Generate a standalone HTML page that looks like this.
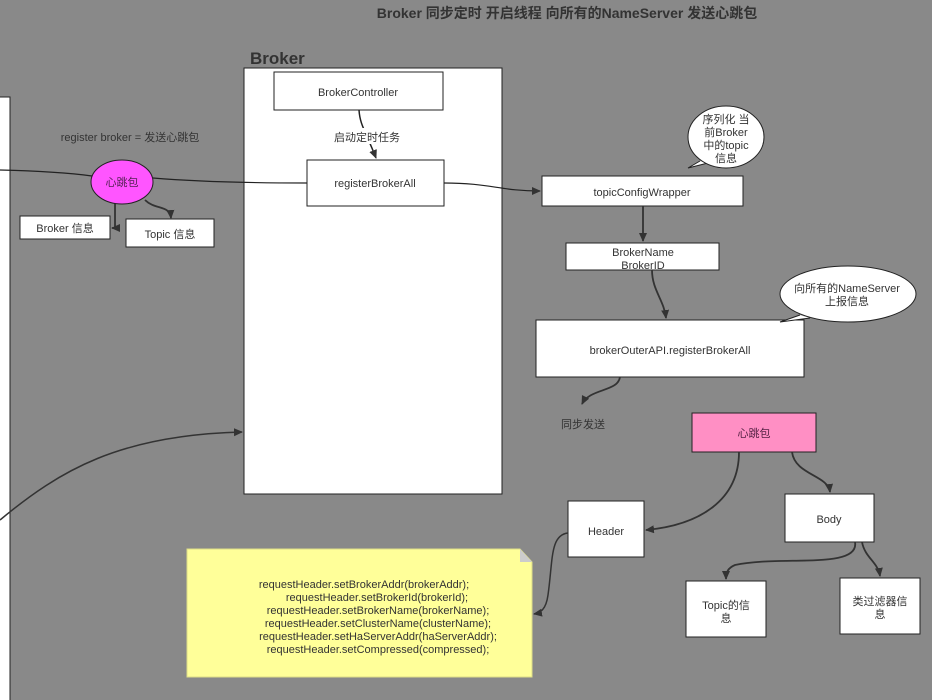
<!DOCTYPE html>
<html><head><meta charset="utf-8"><style>
html,body{margin:0;padding:0;background:#898989;}
svg{display:block;font-family:"Liberation Sans","Noto Sans CJK SC",sans-serif;}
text{fill:#333;font-size:11px;}
</style></head><body>
<svg width="932" height="700" viewBox="0 0 932 700" xmlns="http://www.w3.org/2000/svg">
<defs><marker id="a" markerWidth="10" markerHeight="10" refX="8" refY="4" orient="auto" markerUnits="userSpaceOnUse"><path d="M0,0 L9,4 L0,8 Z" fill="#333"/></marker></defs>
<rect width="932" height="700" fill="#898989"/>
<text x="567" y="18" text-anchor="middle" style="font-size:14px;font-weight:bold">Broker 同步定时 开启线程 向所有的NameServer 发送心跳包</text>
<rect x="-5" y="97" width="15" height="620" fill="#fff" stroke="#222"/>
<text x="250" y="64" style="font-size:17px;font-weight:bold">Broker</text>
<rect x="244" y="68" width="258" height="426" fill="#fff" stroke="#222"/>
<rect x="274" y="72" width="169" height="38" fill="#fff" stroke="#222"/>
<text x="358" y="96" text-anchor="middle">BrokerController</text>
<path d="M359,110 C360,125 365,130 376,158" fill="none" stroke="#222" stroke-width="1.5" marker-end="url(#a)"/>
<rect x="332" y="128" width="74" height="16" fill="#fff"/>
<text x="367" y="141" text-anchor="middle">启动定时任务</text>
<rect x="307" y="160" width="137" height="46" fill="#fff" stroke="#222"/>
<text x="375" y="187" text-anchor="middle">registerBrokerAll</text>
<text x="130" y="141" text-anchor="middle">register broker = 发送心跳包</text>
<path d="M0,170 C40,171 70,173 92,176 M153,178 C200,182 250,183 307,183" fill="none" stroke="#222" stroke-width="1.2"/>
<path d="M444,183 C490,183 500,191 540,191" fill="none" stroke="#222" stroke-width="1.2" marker-end="url(#a)"/>
<path d="M115,201 L115,228 L112,228" fill="none" stroke="#333" stroke-width="1.8" marker-end="url(#a)"/>
<path d="M145,200 C155,210 170,205 171,218" fill="none" stroke="#333" stroke-width="1.8" marker-end="url(#a)"/>
<ellipse cx="122" cy="182" rx="31" ry="22" fill="#ff55ff" stroke="#222"/>
<text x="122" y="186" text-anchor="middle" style="fill:#552255">心跳包</text>
<rect x="20" y="216" width="90" height="23" fill="#fff" stroke="#222"/>
<text x="65" y="232" text-anchor="middle">Broker 信息</text>
<rect x="126" y="219" width="88" height="28" fill="#fff" stroke="#222"/>
<text x="170" y="238" text-anchor="middle">Topic 信息</text>
<rect x="542" y="176" width="201" height="30" fill="#fff" stroke="#222"/>
<text x="642" y="196" text-anchor="middle">topicConfigWrapper</text>
<path d="M700,161 L688,168 L708,163" fill="#fff" stroke="#222"/>
<ellipse cx="726" cy="137" rx="38" ry="31" fill="#fff" stroke="#222"/>
<text x="726" y="123" text-anchor="middle">序列化 当</text>
<text x="726" y="136" text-anchor="middle">前Broker</text>
<text x="726" y="149" text-anchor="middle">中的topic</text>
<text x="726" y="162" text-anchor="middle">信息</text>
<path d="M643,206 L643,241" stroke="#333" stroke-width="1.8" marker-end="url(#a)"/>
<rect x="566" y="243" width="153" height="27" fill="#fff" stroke="#222"/>
<text x="643" y="256" text-anchor="middle">BrokerName</text>
<text x="643" y="269" text-anchor="middle">BrokerID</text>
<path d="M652,270 C652,290 664,300 666,318" fill="none" stroke="#333" stroke-width="1.8" marker-end="url(#a)"/>
<rect x="536" y="320" width="268" height="57" fill="#fff" stroke="#222"/>
<text x="670" y="354" text-anchor="middle">brokerOuterAPI.registerBrokerAll</text>
<path d="M800,315 L780,322 L810,318" fill="#fff" stroke="#222"/>
<ellipse cx="848" cy="294" rx="68" ry="28" fill="#fff" stroke="#222"/>
<text x="847" y="292" text-anchor="middle">向所有的NameServer</text>
<text x="847" y="305" text-anchor="middle">上报信息</text>
<path d="M620,377 C618,392 590,388 582,404" fill="none" stroke="#333" stroke-width="1.8" marker-end="url(#a)"/>
<text x="583" y="428" text-anchor="middle">同步发送</text>
<path d="M0,520 C60,470 120,435 242,432" fill="none" stroke="#333" stroke-width="1.5" marker-end="url(#a)"/>
<rect x="692" y="413" width="124" height="39" fill="#ff8fc4" stroke="#222"/>
<text x="754" y="437" text-anchor="middle" style="fill:#552244">心跳包</text>
<path d="M739,452 C739,500 700,525 646,530" fill="none" stroke="#333" stroke-width="1.8" marker-end="url(#a)"/>
<path d="M792,452 C795,475 828,475 830,492" fill="none" stroke="#333" stroke-width="1.8" marker-end="url(#a)"/>
<rect x="568" y="501" width="76" height="56" fill="#fff" stroke="#222"/>
<text x="606" y="535" text-anchor="middle">Header</text>
<rect x="785" y="494" width="89" height="48" fill="#fff" stroke="#222"/>
<text x="829" y="523" text-anchor="middle">Body</text>
<path d="M855,542 C860,570 780,555 735,565 C728,568 726,572 726,579" fill="none" stroke="#333" stroke-width="1.8" marker-end="url(#a)"/>
<path d="M862,542 C865,558 878,562 880,576" fill="none" stroke="#333" stroke-width="1.8" marker-end="url(#a)"/>
<rect x="686" y="581" width="80" height="56" fill="#fff" stroke="#222"/>
<text x="726" y="609" text-anchor="middle">Topic的信</text>
<text x="726" y="622" text-anchor="middle">息</text>
<rect x="840" y="578" width="80" height="56" fill="#fff" stroke="#222"/>
<text x="880" y="605" text-anchor="middle">类过滤器信</text>
<text x="880" y="618" text-anchor="middle">息</text>
<path d="M187,549 L520,549 L532,562 L532,677 L187,677 Z" fill="#ffff99" stroke="#dddd88"/>
<path d="M520,549 L520,562 L532,562 Z" fill="#ccc"/>
<path d="M568,533 C550,535 553,560 548,595 C546,610 540,613 534,614" fill="none" stroke="#333" stroke-width="1.5" marker-end="url(#a)"/>
<g style="font-size:11px">
<text x="364" y="588" text-anchor="middle">requestHeader.setBrokerAddr(brokerAddr);</text>
<text x="377" y="601" text-anchor="middle">requestHeader.setBrokerId(brokerId);</text>
<text x="378" y="614" text-anchor="middle">requestHeader.setBrokerName(brokerName);</text>
<text x="378" y="627" text-anchor="middle">requestHeader.setClusterName(clusterName);</text>
<text x="378" y="640" text-anchor="middle">requestHeader.setHaServerAddr(haServerAddr);</text>
<text x="378" y="653" text-anchor="middle">requestHeader.setCompressed(compressed);</text>
</g>
</svg>
</body></html>
